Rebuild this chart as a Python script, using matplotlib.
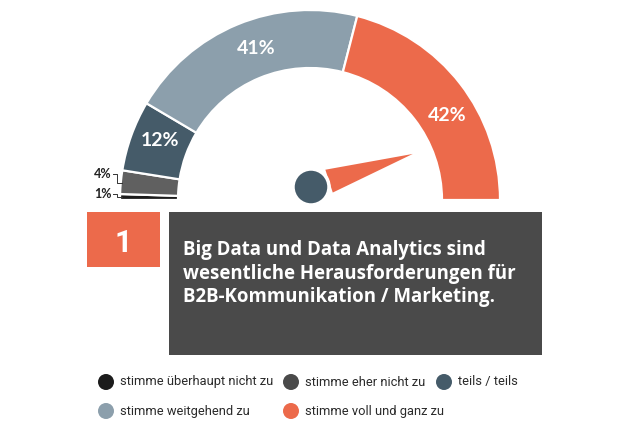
import numpy as np
import matplotlib
matplotlib.use("Agg")
import matplotlib.pyplot as plt
from matplotlib.patches import Wedge, Circle, Rectangle, Polygon

# Survey answers, ordered from left end of the gauge to the right end
categories = [
    "stimme überhaupt nicht zu",
    "stimme eher nicht zu",
    "teils / teils",
    "stimme weitgehend zu",
    "stimme voll und ganz zu",
]
shares = [1, 4, 12, 41, 42]
labels = ["1%", "4%", "12%", "41%", "42%"]
question_lines = [
    "Big Data und Data Analytics sind",
    "wesentliche Herausforderungen für",
    "B2B-Kommunikation / Marketing.",
]
question_no = "1"

seg_colors = ["#1c1c1c", "#606060", "#455b69", "#8c9fac", "#ec6a4b"]
legend_colors = ["#1c1c1c", "#4a4a4a", "#455b69", "#8c9fac", "#ec6a4b"]
ORANGE = "#ec6a4b"
BOX = "#4a4a4a"

W, H = 620, 430
fig = plt.figure(figsize=(6.2, 4.3), dpi=100)
ax = fig.add_axes([0, 0, 1, 1])
ax.set_xlim(0, W)
ax.set_ylim(0, H)
ax.set_aspect("equal")
ax.axis("off")


def py(y):
    # image pixel row -> data y
    return H - y


# gauge
cx, cy = 310, py(200)
r_out, ring = 190, 58
total = float(sum(shares))
start = 180.0
mids = []
for v, c in zip(shares, seg_colors):
    span = 180.0 * v / total
    t2 = start
    t1 = start - span
    ax.add_patch(Wedge((cx, cy), r_out, t1, t2, width=ring, facecolor=c,
                       edgecolor="white", linewidth=1.6))
    mids.append((t1 + t2) / 2)
    start = t1

# inner labels for the big segments (small angle nudges like the original)
r_lab = r_out - ring / 2
nudge = {2: -2, 3: -3, 4: -6}
for i, d in nudge.items():
    a = np.radians(mids[i] + d)
    ax.text(cx + r_lab * np.cos(a), cy + r_lab * np.sin(a), labels[i],
            color="white", fontsize=14, fontfamily="Lato", fontweight="bold",
            ha="center", va="center")

# small labels outside with bracket connectors
for i, (ly, sy) in zip((1, 0), ((174, 183), (194, 197))):
    ax.text(112, py(ly), labels[i], color="#222222", fontsize=9,
            fontfamily="Lato", fontweight="bold", ha="right", va="center")
    ax.plot([113, 117, 117, 122],
            [py(ly), py(ly), py(sy), py(sy)], color="#333333", lw=0.7)

# needle
ncx, ncy = 311, py(187)
ang = np.radians(18)
perp = ang + np.pi / 2
base_d, half_w, length = 19, 12, 107
bx, by = ncx + base_d * np.cos(ang), ncy + base_d * np.sin(ang)
tip = (ncx + length * np.cos(ang), ncy + length * np.sin(ang))
ax.add_patch(Polygon([(bx + half_w * np.cos(perp), by + half_w * np.sin(perp)),
                      tip,
                      (bx - half_w * np.cos(perp), by - half_w * np.sin(perp))],
                     closed=True, facecolor=ORANGE, edgecolor="none"))
ax.add_patch(Circle((ncx, ncy), 18, facecolor="#455b69", edgecolor="white",
                    linewidth=2.5, zorder=5))

# question number box and question text box
ax.add_patch(Rectangle((87, py(267)), 73, 55, facecolor=ORANGE, edgecolor="none"))
ax.text(123.5, py(252), question_no, color="white", fontsize=22,
        fontfamily="Roboto", fontweight="bold", ha="center", va="baseline")
ax.add_patch(Rectangle((169, py(355)), 373, 143, facecolor=BOX, edgecolor="none"))
for k, line in enumerate(question_lines):
    ax.text(183, py(255 + 23.5 * k), line, color="white", fontsize=13.4,
            fontfamily="Open Sans", fontweight="bold", ha="left",
            va="baseline")

# legend
leg_pos = [(106, 382), (291, 382), (444, 382), (106, 411), (291, 411)]
for (x, y), c, name in zip(leg_pos, legend_colors, categories):
    ax.add_patch(Circle((x, py(y)), 8, facecolor=c, edgecolor="none"))
    ax.text(x + 14, py(y), name, color="#2a2a2a", fontsize=9.3,
            fontfamily="Roboto", ha="left", va="center")

fig.savefig("out.png", dpi=100, facecolor="white")
